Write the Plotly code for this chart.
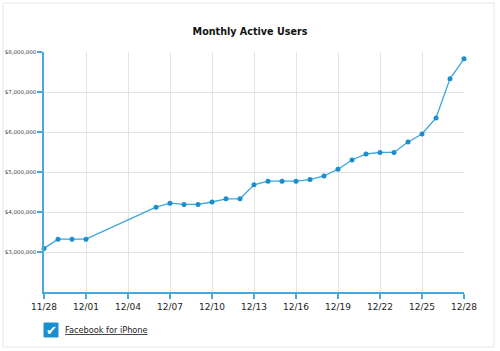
import plotly.graph_objects as go

dates = ["2010-11-28", "2010-11-29", "2010-11-30", "2010-12-01",
         "2010-12-06", "2010-12-07", "2010-12-08", "2010-12-09", "2010-12-10",
         "2010-12-11", "2010-12-12", "2010-12-13", "2010-12-14", "2010-12-15",
         "2010-12-16", "2010-12-17", "2010-12-18", "2010-12-19", "2010-12-20",
         "2010-12-21", "2010-12-22", "2010-12-23", "2010-12-24", "2010-12-25",
         "2010-12-26", "2010-12-27", "2010-12-28"]
users = [3090000, 3320000, 3320000, 3320000,
         4120000, 4220000, 4190000, 4190000, 4250000,
         4330000, 4330000, 4680000, 4770000, 4770000,
         4770000, 4810000, 4900000, 5070000, 5300000,
         5450000, 5490000, 5490000, 5750000, 5950000,
         6350000, 7330000, 7830000]
y_ticks = [3000000, 4000000, 5000000, 6000000, 7000000, 8000000]
y_labels = ["$3,000,000", "$4,000,000", "$5,000,000", "$6,000,000", "$7,000,000", "$8,000,000"]
series_name = "Facebook for iPhone"
title = "Monthly Active Users"

blue = "#1a8fd0"
font = "DejaVu Sans"

fig = go.Figure()
fig.add_trace(go.Scatter(
    x=dates, y=users, mode="lines+markers", name=series_name,
    line=dict(color="#3aa6dc", width=1.3),
    marker=dict(color=blue, size=5),
    showlegend=False, cliponaxis=False,
))

L, R, T, B = 44, 36, 52, 59
W, H = 500, 351
pw, ph = W - L - R, H - T - B

def px(x):
    return (x - L) / pw

def py(y):
    return (H - B - y) / ph

fig.update_layout(
    width=W, height=H,
    margin=dict(l=L, r=R, t=T, b=B, pad=0),
    paper_bgcolor="white", plot_bgcolor="white",
    title=dict(text="<b>" + title + "</b>", x=0.5, xref="container", xanchor="center",
               y=1 - 32 / H, yref="container", yanchor="middle",
               font=dict(family=font, size=9.6, color="#111")),
    xaxis=dict(type="date", range=["2010-11-28", "2010-12-28"], automargin=False,
               tick0="2010-11-28", dtick=3 * 86400000, tickformat="%m/%d",
               showgrid=True, gridcolor="#e3e3e3", gridwidth=1,
               showline=True, linecolor="#4aa8dc", linewidth=1.5,
               ticks="outside", ticklen=5, tickcolor="#4aa8dc", tickwidth=1.5,
               tickfont=dict(family=font, size=9, color="#222"), zeroline=False),
    yaxis=dict(range=[2000000, 8000000], tickvals=y_ticks, ticktext=y_labels,
               automargin=False,
               showgrid=True, gridcolor="#e3e3e3", gridwidth=1,
               showline=True, linecolor="#4aa8dc", linewidth=1.5,
               ticks="outside", ticklen=5, tickcolor="#4aa8dc", tickwidth=1.5,
               tickfont=dict(family=font, size=5.5, color="#444"), zeroline=False),
    shapes=[
        dict(type="rect", xref="paper", yref="paper",
             x0=px(3), x1=px(494), y0=py(347), y1=py(3),
             line=dict(color="#e6e6e6", width=1), layer="below"),
        dict(type="rect", xref="paper", yref="paper",
             x0=px(44), x1=px(58), y0=py(337), y1=py(323),
             line=dict(color=blue, width=1), fillcolor=blue),
    ],
    annotations=[
        dict(text="✔", xref="paper", yref="paper", x=px(51), y=py(330),
             xanchor="center", yanchor="middle", showarrow=False,
             font=dict(family=font, size=13, color="white")),
        dict(text="<u>" + series_name + "</u>", xref="paper", yref="paper",
             x=px(63), y=py(330), xanchor="left", yanchor="middle", showarrow=False,
             font=dict(family=font, size=8.2, color="#222")),
    ],
)

fig.write_html("out.html")
